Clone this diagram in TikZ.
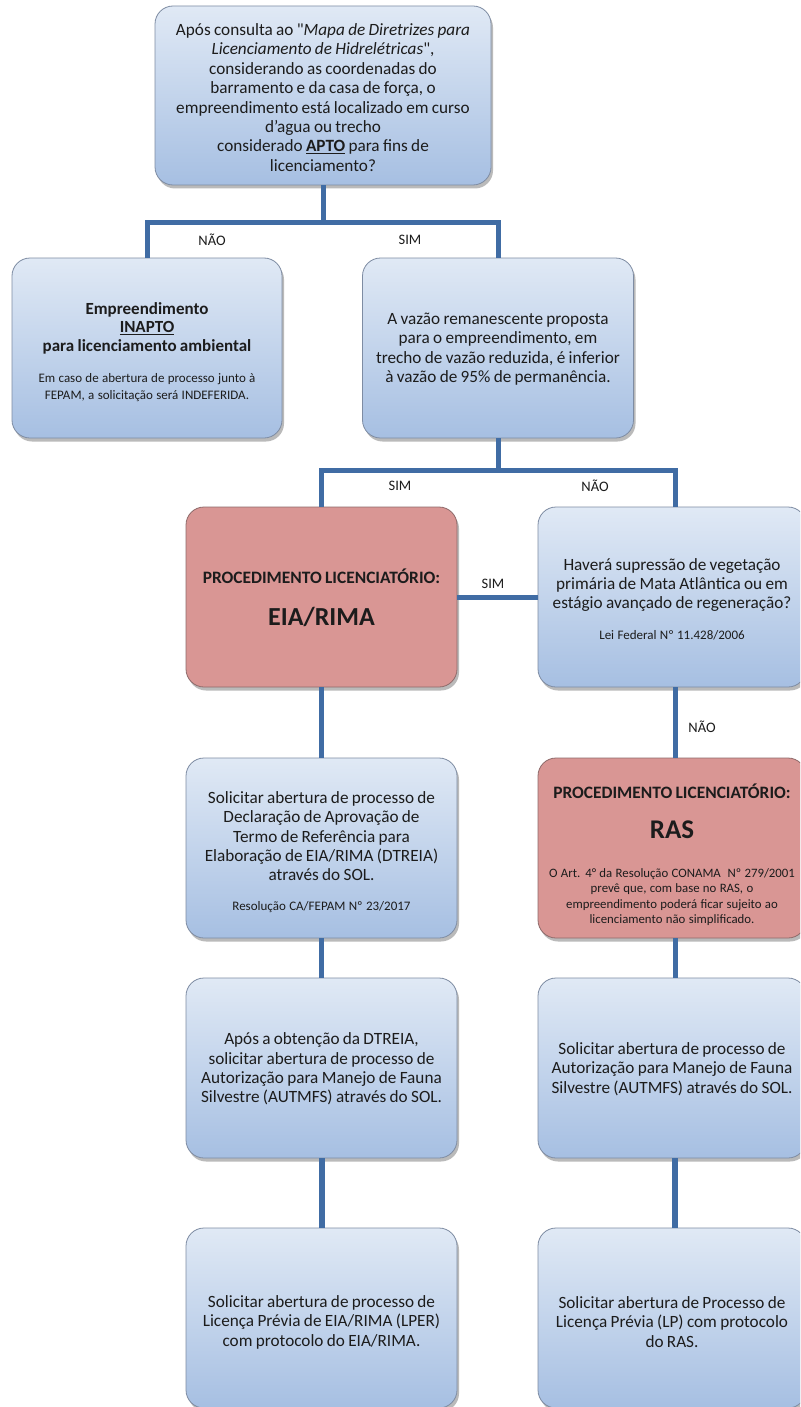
\documentclass[tikz,border=0pt]{standalone}
\usepackage{fontspec}
\setmainfont{Carlito}
\newfontfamily\plainq{Carlito}[Ligatures=TeXOff]
\usetikzlibrary{shadows}
\definecolor{boxtop}{HTML}{E0E9F5}
\definecolor{boxbot}{HTML}{A6BFE2}
\definecolor{boxline}{HTML}{7E8CA3}
\definecolor{redfill}{HTML}{D99694}
\definecolor{redline}{HTML}{8E6A6A}
\definecolor{conncol}{HTML}{406CA4}
\definecolor{txt}{HTML}{1C1C1C}
\tikzset{
  basebox/.style={rounded corners=18pt, minimum height=180pt, align=center, text=txt,
    inner xsep=2pt, inner ysep=3pt,
    drop shadow={shadow xshift=2pt, shadow yshift=-3.5pt, opacity=0.45, fill=black!60}},
  bluebox/.style={basebox, draw=boxline, line width=0.8pt, top color=boxtop, bottom color=boxbot},
  redbox/.style={basebox, draw=redline, line width=0.8pt, fill=redfill},
  conn/.style={draw=conncol, line width=5pt, line join=miter},
  lbl/.style={font=\fontsize{14.5}{16}\selectfont, text=txt, inner sep=0pt},
}
\newcommand{\bodyf}{\fontsize{17.2}{19.4}\selectfont}
\newcommand{\boldf}{\fontsize{17}{18.5}\selectfont\bfseries}
\newcommand{\smallf}{\fontsize{13}{16.5}\selectfont}
\newcommand{\procf}{\fontsize{17.4}{20}\selectfont\bfseries}
\newcommand{\dq}{{\plainq\symbol{34}}}
% shift the text block down by #1 (negative glue at the end of the box)
\newcommand{\lowerby}[1]{\par\vspace{-#1pt}\vspace{-#1pt}}
\begin{document}
\begin{tikzpicture}[x=1pt,y=-1pt]
\useasboundingbox (0,0) rectangle (800,1407);
\fill[white] (0,0) rectangle (800,1407);
\begin{scope}
\clip (0,0) rectangle (800,1407);
% boxes
\node[bluebox, minimum width=336pt, text width=332pt, minimum height=179pt] (top) at (323,95.5)
  {\bodyf Após consulta ao \dq\textit{Mapa de Diretrizes para}\\
   \textit{Licenciamento de Hidrelétricas}\dq,\\
   considerando as coordenadas do\\
   barramento e da casa de força, o\\
   empreendimento está localizado em curso\\
   d’agua ou trecho\\
   considerado \textbf{\underline{APTO}} para fins de\\
   licenciamento?\lowerby{2}};
\node[bluebox, minimum width=270pt, text width=266pt] (inapto) at (147,348)
  {{\boldf Empreendimento\\
   \underline{INAPTO}\\
   para licenciamento ambiental\par}\vspace{15pt}
   {\smallf Em caso de abertura de processo junto à\\
   FEPAM, a solicitação será INDEFERIDA.\lowerby{4}}};
\node[bluebox, minimum width=271pt, text width=267pt] (vazao) at (498,348)
  {\bodyf A vazão remanescente proposta\\
   para o empreendimento, em\\
   trecho de vazão reduzida, é inferior\\
   à vazão de 95\% de permanência.\lowerby{1}};
\node[redbox, minimum width=271pt, text width=267pt] (eia) at (321.5,597)
  {{\procf PROCEDIMENTO LICENCIATÓRIO:\par}
   {\fontsize{26}{42}\selectfont\bfseries EIA/RIMA\lowerby{1}}};
\node[bluebox, minimum width=268pt, text width=264pt] (hav) at (672,597)
  {{\bodyf Haverá supressão de vegetação\\
   primária de Mata Atlântica ou em\\
   estágio avançado de regeneração?\par}\vspace{14pt}
   {\smallf Lei Federal Nº 11.428/2006\lowerby{2}}};
\node[bluebox, minimum width=271pt, text width=267pt] (dtreia) at (321.5,848)
  {{\bodyf Solicitar abertura de processo de\\
   Declaração de Aprovação de\\
   Termo de Referência para\\
   Elaboração de EIA/RIMA (DTREIA)\\
   através do SOL.\par}\vspace{13pt}
   {\smallf Resolução CA/FEPAM Nº 23/2017\lowerby{4}}};
\node[redbox, minimum width=268pt, text width=264pt] (ras) at (672,848)
  {{\procf PROCEDIMENTO LICENCIATÓRIO:\par}
   {\fontsize{27}{40}\selectfont\bfseries RAS\par}\vspace{23pt}
   {\fontsize{12.8}{15.5}\selectfont O Art. 4° da Resolução CONAMA\ \ Nº 279/2001\\
   prevê que, com base no RAS, o\\
   empreendimento poderá ficar sujeito ao\\
   licenciamento não simplificado.\lowerby{7}}};
\node[bluebox, minimum width=271pt, text width=267pt] (aut1) at (321.5,1068)
  {\bodyf Após a obtenção da DTREIA,\\
   solicitar abertura de processo de\\
   Autorização para Manejo de Fauna\\
   Silvestre (AUTMFS) através do SOL.\lowerby{1}};
\node[bluebox, minimum width=268pt, text width=264pt] (aut2) at (672,1068)
  {\bodyf Solicitar abertura de processo de\\
   Autorização para Manejo de Fauna\\
   Silvestre (AUTMFS) através do SOL.\lowerby{1}};
\node[bluebox, minimum width=271pt, text width=267pt] (lper) at (321.5,1318)
  {\bodyf Solicitar abertura de processo de\\
   Licença Prévia de EIA/RIMA (LPER)\\
   com protocolo do EIA/RIMA.\lowerby{4}};
\node[bluebox, minimum width=268pt, text width=264pt] (lp) at (672,1318)
  {\bodyf Solicitar abertura de Processo de\\
   Licença Prévia (LP) com protocolo\\
   do RAS.\lowerby{4}};
% junctions
\coordinate (j1) at (323,222);
\coordinate (j2) at (498,470);
% connectors
\draw[conn] (top.south) -- (j1);
\draw[conn] (inapto.north) |- (j1) -| (vazao.north);
\draw[conn] (vazao.south) -- (j2);
\draw[conn] (eia.north) |- (j2) -| ([xshift=3pt]hav.north);
\draw[conn] (eia.east) -- (hav.west);
\draw[conn] ([xshift=3pt]hav.south) -- ([xshift=3pt]ras.north);
\draw[conn] (eia.south) -- (dtreia.north);
\draw[conn] (dtreia.south) -- (aut1.north);
\draw[conn] ([xshift=3pt]ras.south) -- ([xshift=3pt]aut2.north);
\draw[conn, line width=6pt] (aut1.south) -- (lper.north);
\draw[conn, line width=6pt] ([xshift=3pt]aut2.south) -- ([xshift=3pt]lp.north);
% labels
\node[lbl] (l1) at (212,240) {NÃO};
\node[lbl] (l2) at (410,240) {SIM};
\node[lbl] (l3) at (400,486) {SIM};
\node[lbl] (l4) at (595,486) {NÃO};
\node[lbl] (l5) at (493,584) {SIM};
\node[lbl] (l6) at (702,727) {NÃO};
\end{scope}
\end{tikzpicture}
\end{document}
